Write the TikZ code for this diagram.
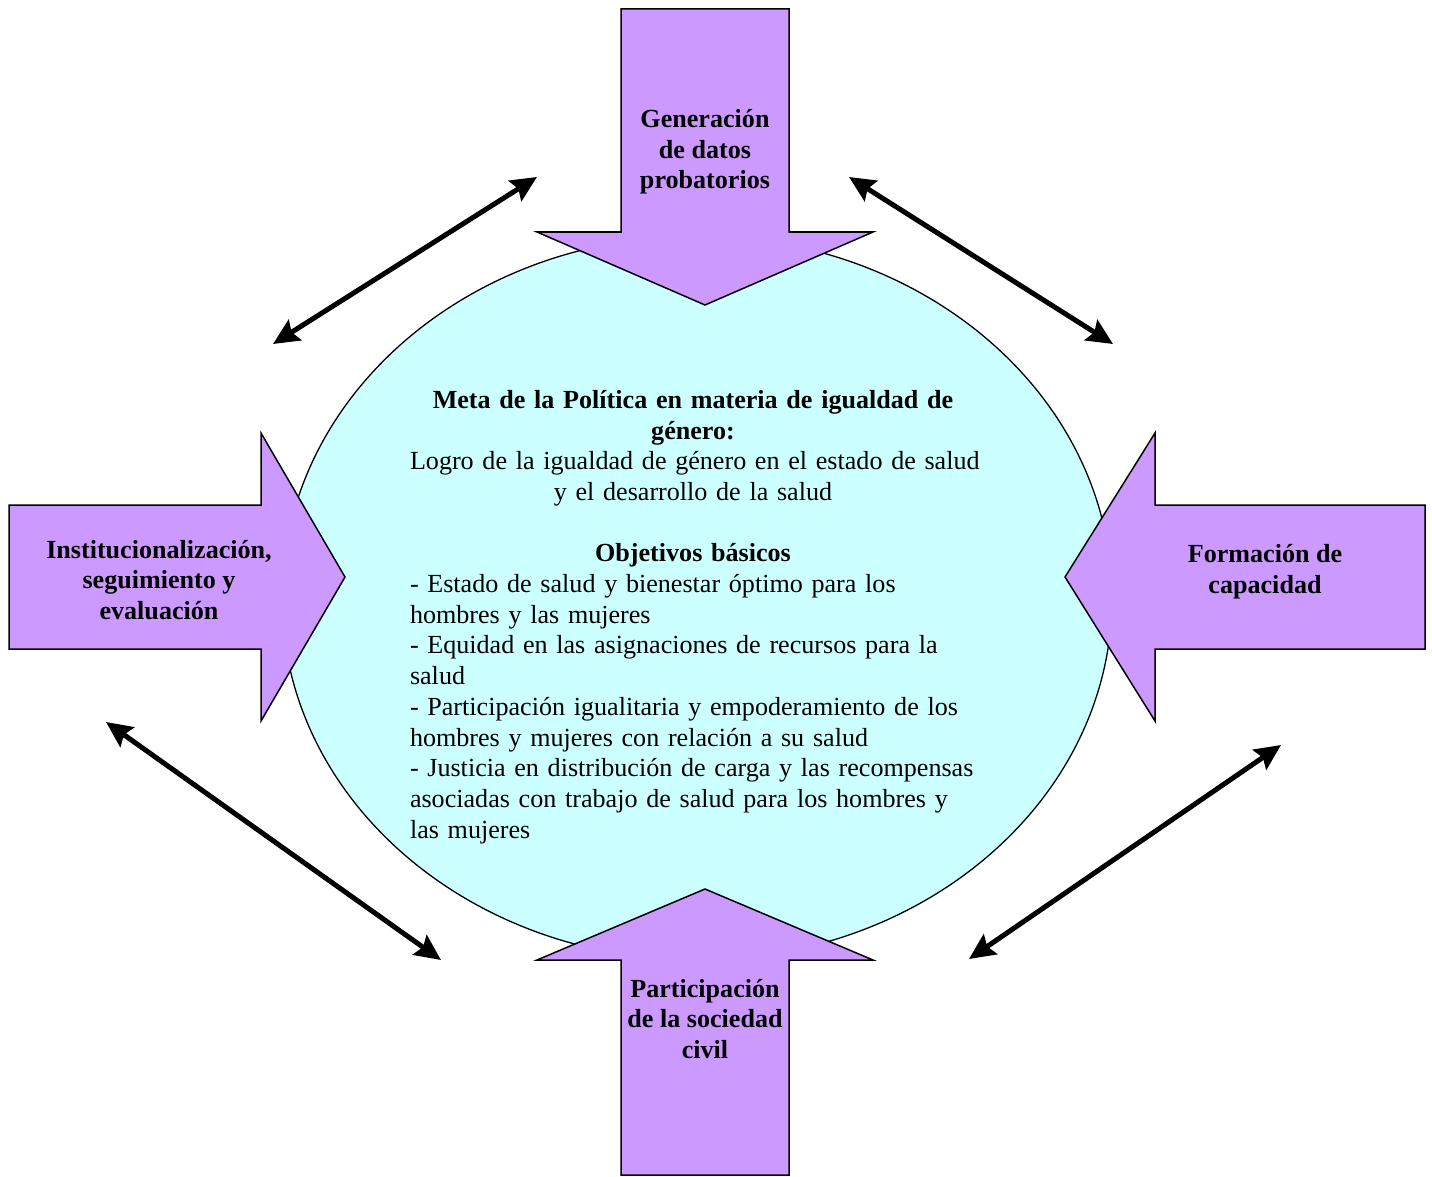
\documentclass[tikz,border=0pt]{standalone}
\usepackage{fontspec}
\setmainfont{Liberation Serif}
\usetikzlibrary{arrows.meta}
\definecolor{lilac}{HTML}{CC99FF}
\definecolor{paleaqua}{HTML}{CCFFFF}
\tikzset{
  blockarrow/.style={draw=black, fill=lilac, line width=1.5pt, line join=miter},
  armlabel/.style={font=\fontsize{26.1}{30.6}\selectfont\bfseries, align=center, inner sep=0pt},
  linkarrow/.style={line width=5pt, {Stealth[length=26pt,width=24pt,inset=4pt]}-{Stealth[length=26pt,width=24pt,inset=4pt]}}
}
\begin{document}
\begin{tikzpicture}[x=1pt, y=-1pt]
      \useasboundingbox (0,0) rectangle (1432,1177);
      % centre
      \draw[fill=paleaqua, line width=1.3pt] (697,598) ellipse [x radius=415, y radius=362];
      % block arrows
      \draw[blockarrow] (621,9) -- (789,9) -- (789,232) -- (873,232) -- (705,305)
        -- (537,232) -- (621,232) -- cycle;
      \draw[blockarrow] (621,1175) -- (789,1175) -- (789,960) -- (873,960) -- (705,889)
        -- (537,960) -- (621,960) -- cycle;
      \draw[blockarrow] (9,505) -- (261,505) -- (261,433) -- (345,577) -- (261,721)
        -- (261,649) -- (9,649) -- cycle;
      \draw[blockarrow] (1425,505) -- (1155,505) -- (1155,433) -- (1065,577) -- (1155,721)
        -- (1155,649) -- (1425,649) -- cycle;
      \draw
        (705,152) node[armlabel] (datos){Generación\\de datos\\probatorios}
        (705,1019) node[armlabel] (civil){Participación\\de la sociedad\\civil}
        (159,580) node[armlabel] (inst){Institucionalización,\\seguimiento y\\evaluación}
        (1265,572) node[armlabel] (capac){Formación de\\capacidad};
      \node[text width=566pt, inner sep=0pt, font=\fontsize{26.1}{30.7}\selectfont] (goal) at (693,617)
        {\centering\textbf{Meta de la Política en materia de igualdad de}\\
         \textbf{género:}\\
         \mbox{Logro de la igualdad de género en el estado de salud}\\
         y el desarrollo de la salud\\[30.7pt]
         \textbf{Objetivos básicos}\par
         \raggedright
         - Estado de salud y bienestar óptimo para los\\
         hombres y las mujeres\\
         - Equidad en las asignaciones de recursos para la\\
         salud\\
         - Participación igualitaria y empoderamiento de los\\
         hombres y mujeres con relación a su salud\\
         - Justicia en distribución de carga y las recompensas\\
         asociadas con trabajo de salud para los hombres y\\
         las mujeres\par};
      % links between the arms
      \coordinate (tl1) at (273,344);
      \coordinate (tl2) at (537,177);
      \coordinate (tr1) at (849,177);
      \coordinate (tr2) at (1113,344);
      \coordinate (bl1) at (106,722);
      \coordinate (bl2) at (441,960);
      \coordinate (br1) at (969,959);
      \coordinate (br2) at (1281,745);
      \begin{scope}[linkarrow]
        \draw (tl1) to (tl2);
        \draw (tr1) to (tr2);
        \draw (bl1) to (bl2);
        \draw (br1) to (br2);
      \end{scope}
    \end{tikzpicture}
\end{document}
